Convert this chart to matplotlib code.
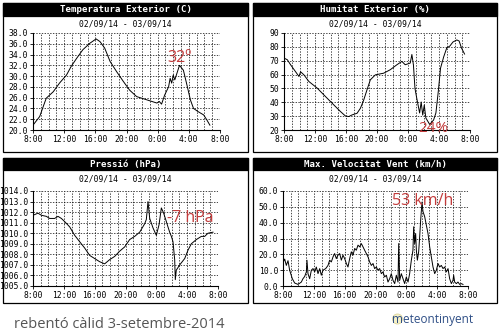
import matplotlib
matplotlib.use('Agg')
import matplotlib.pyplot as plt
from matplotlib.patches import Rectangle, Ellipse

W, H = 500, 333

# hours since 8:00 on 02/09/14
temp_t = [0.0, 0.86, 1.3, 1.7, 2.6, 3.4, 4.3, 4.9, 5.6, 6.4,
          7.3, 8.1, 8.6, 9.2, 9.9, 10.7, 11.6, 12.4, 13.3, 14.6,
          15.9, 16.2, 16.5, 16.9, 17.4, 17.6, 17.8, 18.0, 18.2, 18.8,
          19.3, 19.7, 20.2, 20.6, 21.2, 21.9, 22.3, 22.7]
temp_v = [20.9, 22.5, 24.3, 25.9, 27.1, 28.7, 30.2, 31.8, 33.3, 34.9,
          36.1, 36.9, 36.4, 35.2, 32.7, 30.9, 29.0, 27.4, 26.2, 25.6,
          25.0, 25.3, 24.8, 26.5, 28.0, 29.6, 28.7, 30.2, 29.3, 32.0,
          31.1, 28.7, 25.6, 24.0, 23.4, 22.8, 21.9, 20.9]

hum_t = [0.0, 0.43, 0.86, 1.5, 1.93, 2.14, 2.57, 3.21, 4.29, 5.36,
         6.43, 7.29, 7.93, 8.36, 8.79, 9.43, 9.86, 10.29, 10.71, 11.14,
         11.79, 12.86, 13.71, 14.57, 15.21, 15.64, 16.29, 16.5, 16.7, 16.9,
         17.1, 17.5, 17.7, 17.9, 18.1, 18.3, 18.8, 19.3, 19.6, 19.9,
         20.2, 20.6, 21.0, 21.4, 21.8, 22.3, 22.6, 22.9, 23.3]
hum_v = [71.9, 70.7, 67.0, 62.0, 58.6, 62.0, 59.8, 55.0, 50.2, 44.1,
         38.1, 33.3, 30.1, 29.7, 30.9, 32.1, 35.7, 41.7, 49.0, 56.2,
         59.8, 61.0, 63.5, 67.1, 69.5, 67.1, 68.3, 74.5, 67.0, 50.0,
         43.8, 32.3, 40.2, 30.8, 38.0, 28.7, 24.0, 27.2, 32.3, 47.4,
         64.7, 72.7, 79.2, 80.6, 83.5, 85.0, 84.2, 79.2, 74.8]

pres_t = [0.00, 0.65, 1.08, 1.73, 2.16, 2.81, 3.24, 3.68, 4.11, 4.76,
          5.41, 6.05, 6.70, 7.35, 8.00, 8.65, 9.30, 9.95, 10.59, 11.24,
          11.89, 12.54, 13.19, 13.84, 14.49, 14.70, 14.92, 15.14, 15.57, 16.00,
          16.35, 16.65, 16.95, 17.30, 17.51, 17.73, 17.95, 18.16, 18.38, 18.46,
          18.59, 19.03, 19.68, 20.11, 20.54, 21.19, 21.84, 22.27, 22.70, 23.35]
pres_v = [1011.7, 1011.9, 1011.7, 1011.6, 1011.4, 1011.4, 1011.6, 1011.4, 1011.1, 1010.6,
          1009.8, 1009.2, 1008.6, 1007.9, 1007.6, 1007.3, 1007.1, 1007.5, 1007.8, 1008.3,
          1008.7, 1009.4, 1009.7, 1010.1, 1010.9, 1011.3, 1013.0, 1011.4, 1010.5, 1009.8,
          1010.8, 1012.4, 1011.9, 1011.1, 1010.6, 1010.1, 1009.7, 1009.2, 1007.5, 1005.6,
          1006.5, 1007.0, 1007.6, 1008.4, 1009.0, 1009.4, 1009.7, 1009.7, 1010.0, 1010.1]

wind_t = [0.00, 0.22, 0.43, 0.65, 0.86, 1.21, 1.51, 1.95, 2.38, 2.59,
          2.81, 3.03, 3.11, 3.24, 3.46, 3.68, 3.89, 4.11, 4.32, 4.54,
          4.76, 4.97, 5.19, 5.54, 5.84, 6.05, 6.27, 6.49, 6.70, 6.92,
          7.14, 7.35, 7.57, 7.78, 8.00, 8.22, 8.43, 8.65, 8.86, 9.08,
          9.30, 9.51, 9.73, 9.95, 10.16, 10.38, 10.59, 10.81, 11.03, 11.24,
          11.46, 11.68, 11.89, 12.11, 12.32, 12.54, 12.76, 12.97, 13.19, 13.41,
          13.62, 13.84, 14.05, 14.27, 14.49, 14.70, 14.92, 15.01, 15.14, 15.35,
          15.57, 15.78, 16.00, 16.22, 16.43, 16.65, 16.86, 16.95, 17.08, 17.21,
          17.30, 17.43, 17.60, 17.73, 17.86, 18.03, 18.16, 18.38, 18.59, 18.81,
          19.03, 19.24, 19.46, 19.68, 19.89, 20.11, 20.32, 20.54, 20.76, 20.97,
          21.19, 21.41, 21.62, 21.84, 22.05, 22.14, 22.27, 22.49, 22.70, 22.92,
          23.14, 23.35]
wind_v = [14.8, 17.0, 13.0, 16.0, 10.0, 4.6, 1.9, 1.0, 2.5, 4.6,
          6.0, 8.9, 16.3, 7.8, 4.6, 10.0, 11.0, 8.9, 12.0, 7.8,
          11.0, 6.8, 10.0, 11.0, 13.0, 16.3, 15.2, 18.4, 20.5, 17.3,
          19.5, 20.5, 16.3, 19.5, 17.3, 14.2, 12.0, 17.3, 21.6, 19.5,
          23.7, 22.6, 25.8, 24.7, 26.8, 24.7, 22.6, 20.5, 18.4, 15.2,
          13.0, 14.2, 11.0, 12.0, 10.0, 11.0, 7.8, 8.9, 5.7, 6.8,
          2.5, 4.6, 7.8, 3.6, 1.5, 6.8, 2.5, 26.8, 3.6, 7.8,
          4.6, 1.5, 5.7, 2.5, 7.8, 16.3, 22.6, 37.4, 26.8, 33.2,
          22.6, 16.3, 21.6, 31.1, 41.6, 53.0, 47.0, 43.8, 38.5, 33.2,
          24.7, 18.4, 12.0, 7.8, 10.0, 14.2, 12.0, 13.0, 11.0, 12.0,
          8.9, 11.0, 4.6, 1.5, 3.6, 6.8, 2.5, 1.5, 2.5, 1.0,
          1.5, 1.0]

hour_labels = ['8:00', '12:00', '16:00', '20:00', '0:00', '4:00', '8:00']
date_range = '02/09/14 - 03/09/14'

plt.rcParams['font.family'] = 'DejaVu Sans Mono'
RED = '#c23b3b'

fig = plt.figure(figsize=(W / 100, H / 100), dpi=100)
fig.patch.set_facecolor('white')


def frac(x0, y0, x1, y1):
    return [x0 / W, 1 - y1 / H, (x1 - x0) / W, (y1 - y0) / H]


def panel(box, axbox, title, t, v, ylim, ystep, fmt):
    x0, y0, x1, y1 = box
    fig.add_artist(Rectangle((x0 / W, 1 - y1 / H), (x1 - x0) / W, (y1 - y0) / H,
                             transform=fig.transFigure, fill=False,
                             edgecolor='black', linewidth=0.9))
    fig.add_artist(Rectangle((x0 / W, 1 - (y0 + 12.5) / H), (x1 - x0) / W, 12.5 / H,
                             transform=fig.transFigure, facecolor='black',
                             edgecolor='black', linewidth=0.9))
    cx = (x0 + x1) / 2 / W
    fig.text(cx, 1 - (y0 + 6.5) / H, title, color='white', fontsize=6.6,
             fontweight='bold', ha='center', va='center')
    fig.text(cx, 1 - (y0 + 21) / H, date_range, fontsize=5.8,
             ha='center', va='center')

    ax = fig.add_axes(frac(*axbox))
    ax.plot(t, v, color='black', linewidth=0.7)
    ax.set_xlim(0, 24)
    ax.set_ylim(*ylim)
    ax.set_xticks(range(0, 25, 4))
    ax.set_xticklabels(hour_labels)
    ax.set_xticks(range(25), minor=True)
    yt = [ylim[0] + i * ystep for i in range(int(round((ylim[1] - ylim[0]) / ystep)) + 1)]
    ax.set_yticks(yt)
    ax.set_yticklabels([fmt % y for y in yt])
    ax.tick_params(labelsize=5.8, length=2.5, width=0.6, pad=1)
    ax.tick_params(which='minor', length=0)
    dash = (0, (2, 2))
    ax.grid(which='both', axis='x', color='black', linestyle=dash, linewidth=0.5)
    ax.grid(which='major', axis='y', color='black', linestyle=dash, linewidth=0.5)
    ax.set_axisbelow(True)
    for side in ('top', 'right'):
        ax.spines[side].set_visible(False)
    for side in ('left', 'bottom'):
        ax.spines[side].set_linewidth(0.8)
    return ax


ax1 = panel((3, 3, 248, 152), (33, 33, 220, 130), 'Temperatura Exterior (C)',
            temp_t, temp_v, (20, 38), 2, '%.1f')
ax2 = panel((253, 3, 497, 152), (284, 33, 470, 130), 'Humitat Exterior (%)',
            hum_t, hum_v, (20, 90), 10, '%d')
ax3 = panel((3, 158, 248, 303), (33, 191, 218, 286), 'Pressió (hPa)',
            pres_t, pres_v, (1005, 1014), 1, '%.1f')
ax4 = panel((253, 158, 497, 303), (283, 191, 468, 286), 'Max. Velocitat Vent (km/h)',
            wind_t, wind_v, (0, 60), 10, '%.1f')

# hand-written notes on the night storm
note = dict(color=RED, fontsize=11.5, family=['Open Sans', 'DejaVu Sans'], va='baseline')
ax1.text(17.3, 32.6, '32º', **note)
ax2.text(17.3, 18.2, '24%', clip_on=False, **dict(note, fontsize=11))
ax3.text(17.4, 1011.1, '-7 hPa', **note)
ax4.text(14.2, 51.2, '53 km/h', **note)

fig.text(14 / W, 1 - 328 / H, 'rebentó càlid 3-setembre-2014', color='#555555',
         fontsize=10.5, family=['Open Sans', 'DejaVu Sans'], va='baseline')
fig.add_artist(Ellipse((397.5 / W, 1 - 319 / H), 10 / W, 10 / H,
                       transform=fig.transFigure, facecolor='#f6f1c8',
                       edgecolor='#dcd49a', linewidth=0.6))
fig.text(392 / W, 1 - 323 / H, 'meteontinyent', color='#2f4f86',
         fontsize=8.5, family=['Open Sans', 'DejaVu Sans'], va='baseline')

fig.savefig('out.png', dpi=100)
